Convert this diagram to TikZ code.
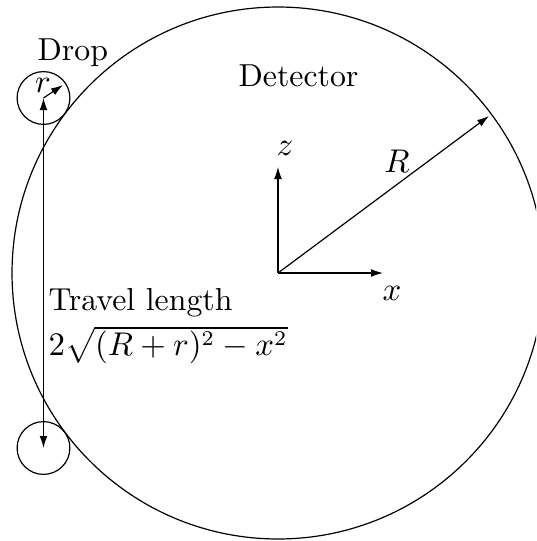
\documentclass[tikz,border=0pt]{standalone}
\usetikzlibrary{arrows.meta}
\begin{document}
\begin{tikzpicture}[x=0.3333pt,y=-0.3333pt,
  line width=0.4pt,
  arr/.style={-{Latex[length=4pt,width=2.6pt]}},
  darr/.style={{Latex[length=4pt,width=2.6pt]}-{Latex[length=4pt,width=2.6pt]}},
  lbl/.style={inner sep=0pt,font=\fontsize{10.6pt}{12.7pt}\selectfont}]
\useasboundingbox (0,0) rectangle (536,541);
\clip (0,0) rectangle (536,541);
\coordinate (O) at (278,273);
\node[circle,draw,inner sep=0pt,minimum size=177.3pt] (det) at (O) {};
\node[circle,draw,inner sep=0pt,minimum size=17.6pt] (d1) at (43.5,98) {};
\node[circle,draw,inner sep=0pt,minimum size=17.6pt] (d2) at (43.5,448) {};
\coordinate (Rt) at (489,116);
\coordinate (Xt) at (383,273);
\coordinate (Zt) at (278,167);
\coordinate (rt) at (63,85);
\draw[arr] (O) -- (Xt);
\draw[arr] (O) -- (Zt);
\draw[arr] (O) -- (Rt);
\draw[arr] (d1.center) -- (rt);
\draw[darr] (d1.center) -- (d2.center);
\node[lbl,anchor=base west] (drop) at (37,61) {Drop};
\node[lbl,anchor=base] (rl) at (43,92) {$r$};
\node[lbl,anchor=base west] (detl) at (238,86) {Detector};
\node[lbl,anchor=base] (zl) at (285,155) {$z$};
\node[lbl,anchor=base] (xl) at (392,300) {$x$};
\node[lbl,anchor=base] (Rl) at (397,172) {$R$};
\node[lbl,anchor=base west] (tl) at (48,310) {Travel length};
\node[lbl,anchor=base west] (fl) at (48,355) {$2\sqrt{(R+r)^2-x^2}$};
\end{tikzpicture}
\end{document}
